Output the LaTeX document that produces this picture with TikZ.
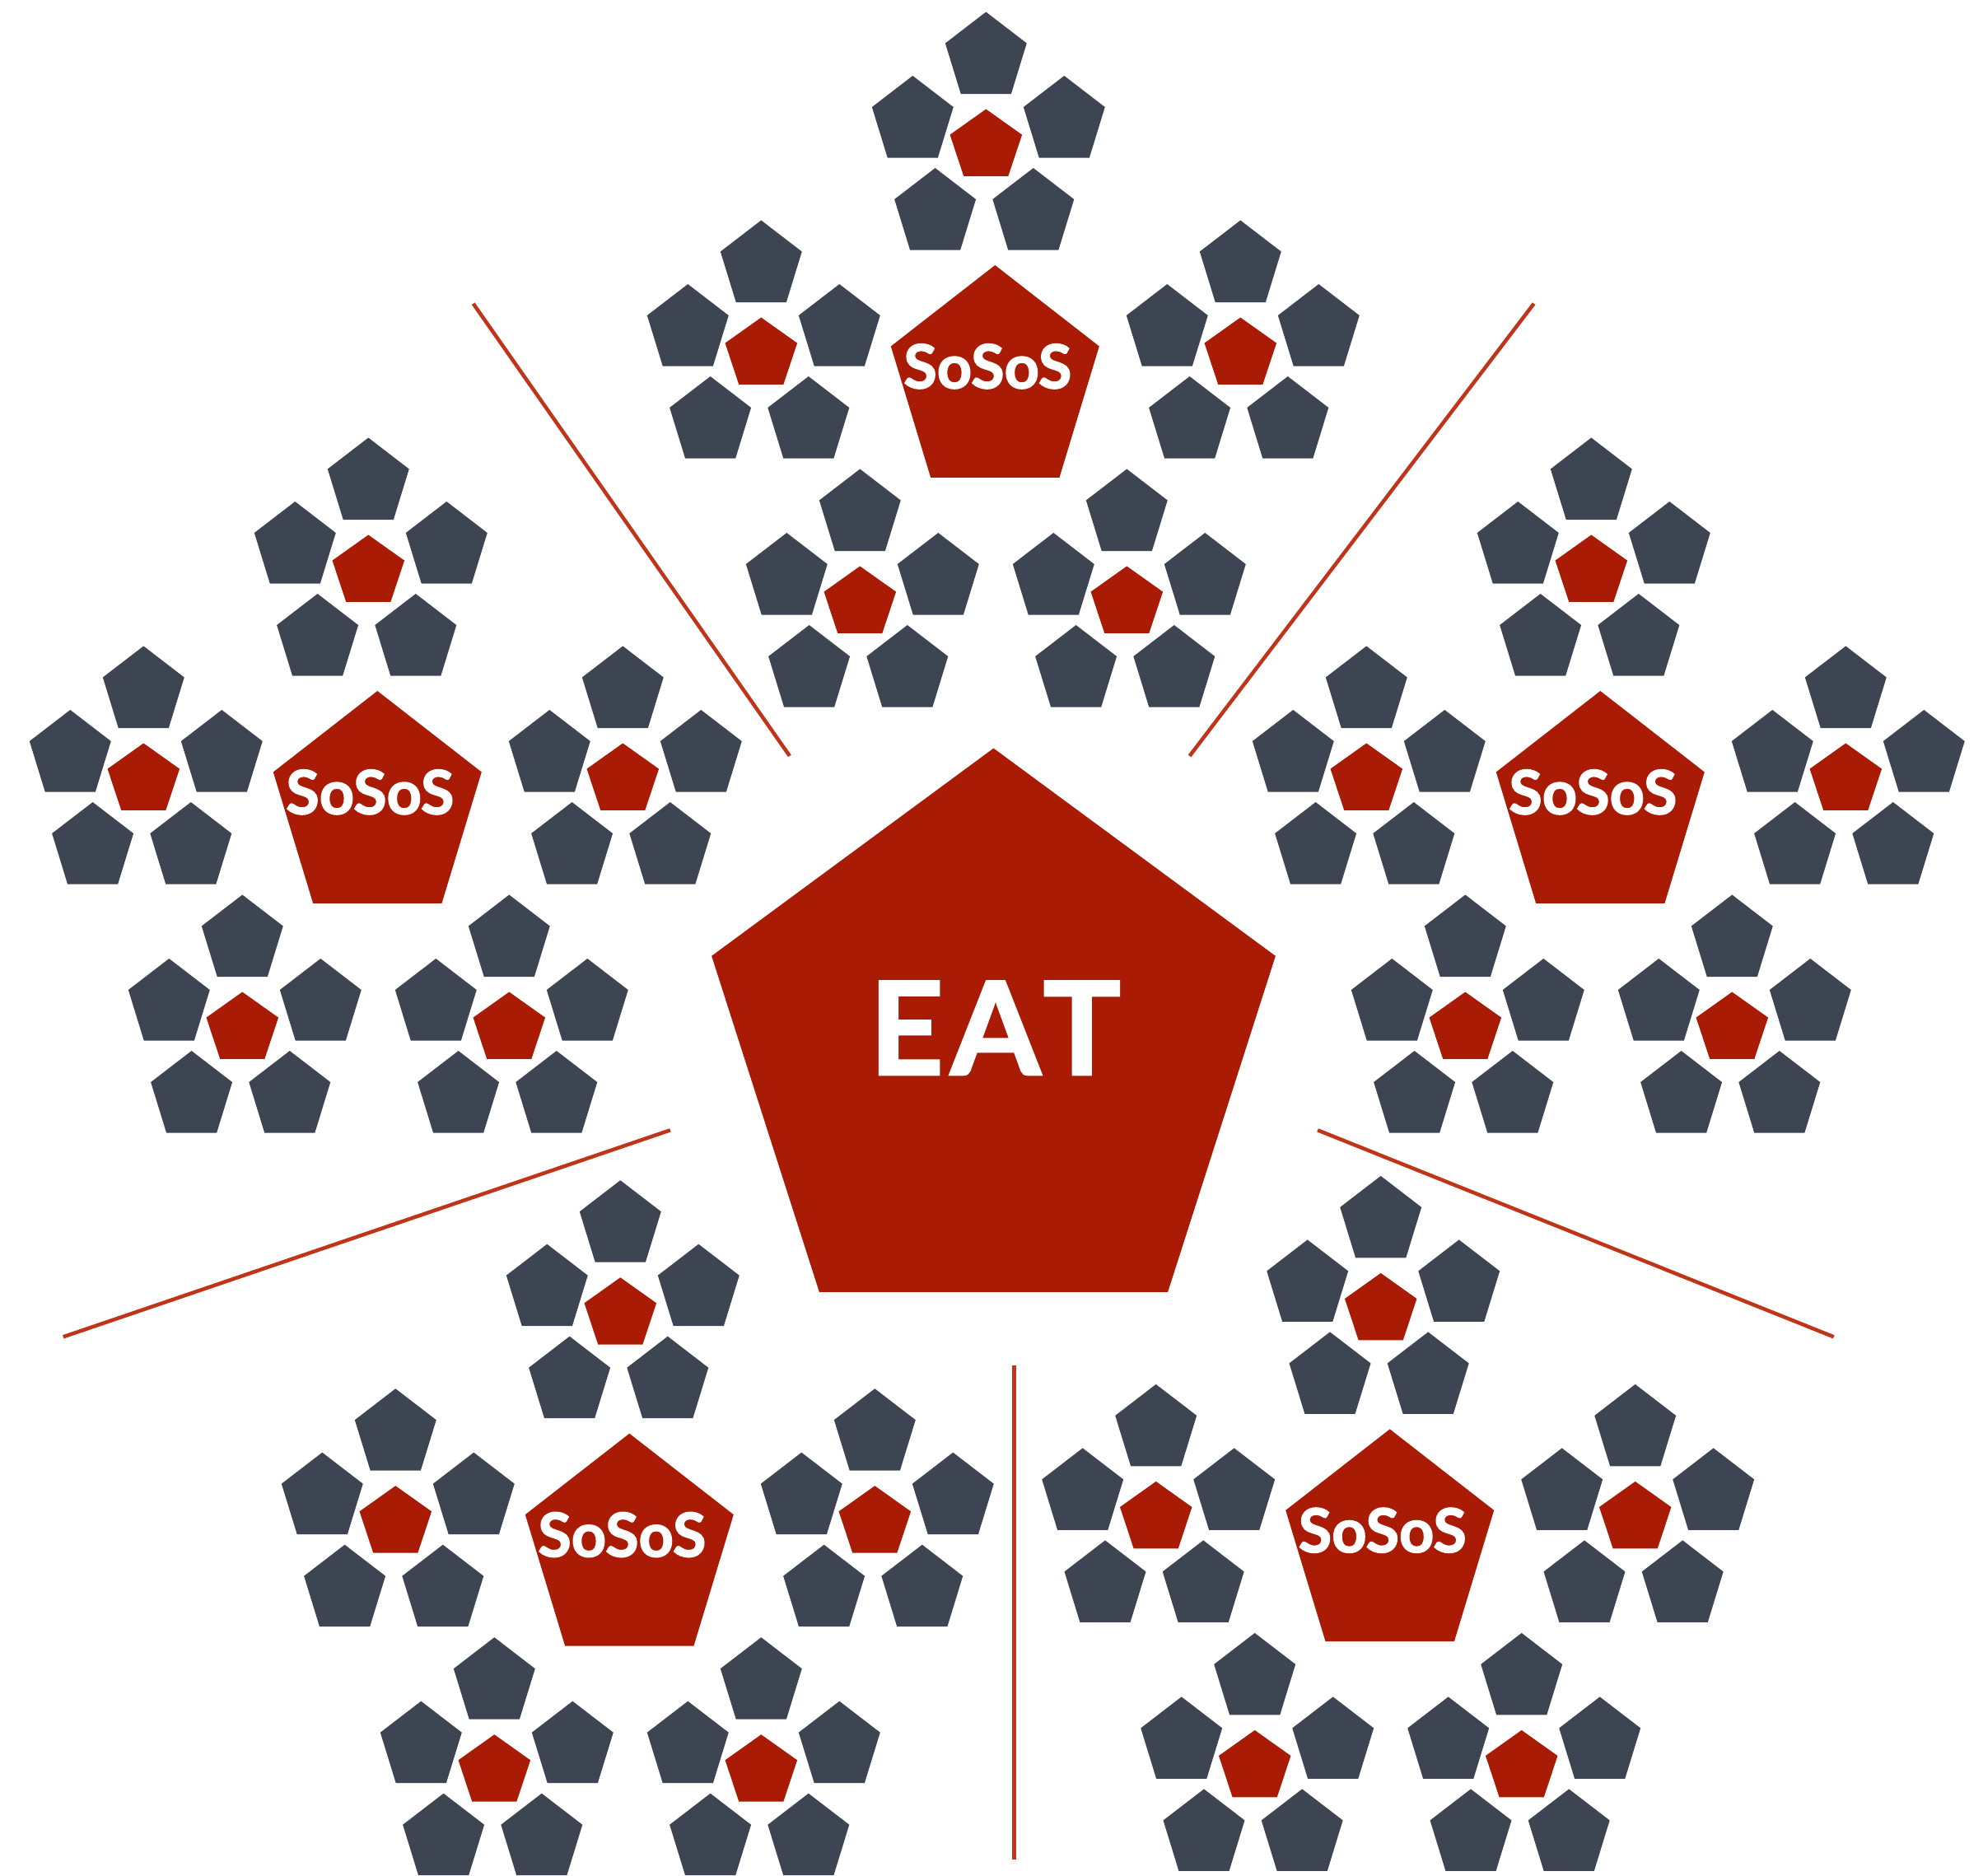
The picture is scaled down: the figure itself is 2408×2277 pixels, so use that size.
\documentclass[tikz,border=0pt]{standalone}
\usepackage{fontspec}
\newfontfamily\labelfont{Lato}[BoldFeatures={FakeBold=2}]
\definecolor{eatred}{RGB}{169,27,5}
\definecolor{slate}{RGB}{61,69,83}
\definecolor{rulered}{RGB}{192,52,26}

% unit pentagon, point up, centroid at the origin (y axis points down)
\newcommand\pentpath{(0,-1) -- (0.9511,-0.309) -- (0.5878,0.809) -- (-0.5878,0.809) -- (-0.9511,-0.309) -- cycle}

% a small red pentagon ringed by five slate ones; #1 = centre
\newcommand\flower[1]{%
  \begin{scope}[shift={#1}]
    \fill[eatred, xscale=46, yscale=45] \pentpath;
    \foreach \dx/\dy in {0/-108, -89/-30.5, 95/-30.5, -61.7/81.5, 57.5/81.5}
      \fill[slate, shift={(\dx,\dy)}, xscale=52, yscale=55] \pentpath;
  \end{scope}}

% a SoSoS pentagon with its five flowers; #1 = centre, #2 = label name
\newcommand\cluster[2]{%
  \begin{scope}[shift={#1}]
    \fill[eatred, xscale=133, yscale=142.5] \pentpath;
    \node[sosos] (#2) at (-9,7) {SoSoS};
    \flower{(-11,-287)}
    \flower{(-284,-34)}
    \flower{(298,-34)}
    \flower{(-164,268)}
    \flower{(160,268)}
  \end{scope}}

\tikzset{
  sosos/.style={anchor=base, text=white, inner sep=0pt,
    font=\labelfont\bfseries\fontsize{21}{21}\selectfont},
  eat/.style={anchor=base, text=white, inner sep=0pt,
    font=\labelfont\bfseries\fontsize{44.5}{44.5}\selectfont},
  divider/.style={draw=rulered, line width=0.045cm},
}

\begin{document}
\begin{tikzpicture}[x=0.01cm, y=-0.01cm]
  \useasboundingbox (0,0) rectangle (2408,2277);

  % centre
  \fill[eatred, shift={(1206.5,1273.6)}, xscale=360, yscale=365] \pentpath;
  \node[eat] (eat) at (1208.3,1304.7) {E\kern2.5pt A\kern1pt T};

  % the five systems of systems
  \cluster{(1208.3,464.5)}{top}
  \cluster{(458.3,981.5)}{left}
  \cluster{(1943.3,981.5)}{right}
  \cluster{(764.3,1883.2)}{botleft}
  \cluster{(1687.7,1877.9)}{botright}

  % dividing rules between the systems
  \coordinate (d1a) at (574.7,368.7);   \coordinate (d1b) at (958.9,917.9);
  \coordinate (d2a) at (1862.6,368.7);  \coordinate (d2b) at (1444.6,917.9);
  \coordinate (d3a) at (813.9,1372.3);  \coordinate (d3b) at (76.8,1623.3);
  \coordinate (d4a) at (1600.1,1372.3); \coordinate (d4b) at (2226.7,1623.3);
  \coordinate (d5a) at (1231.6,1657.7); \coordinate (d5b) at (1231.6,2258);
  \draw[divider] (d1a) -- (d1b);
  \draw[divider] (d2a) -- (d2b);
  \draw[divider] (d3a) -- (d3b);
  \draw[divider] (d4a) -- (d4b);
  \draw[divider] (d5a) -- (d5b);
\end{tikzpicture}
\end{document}
